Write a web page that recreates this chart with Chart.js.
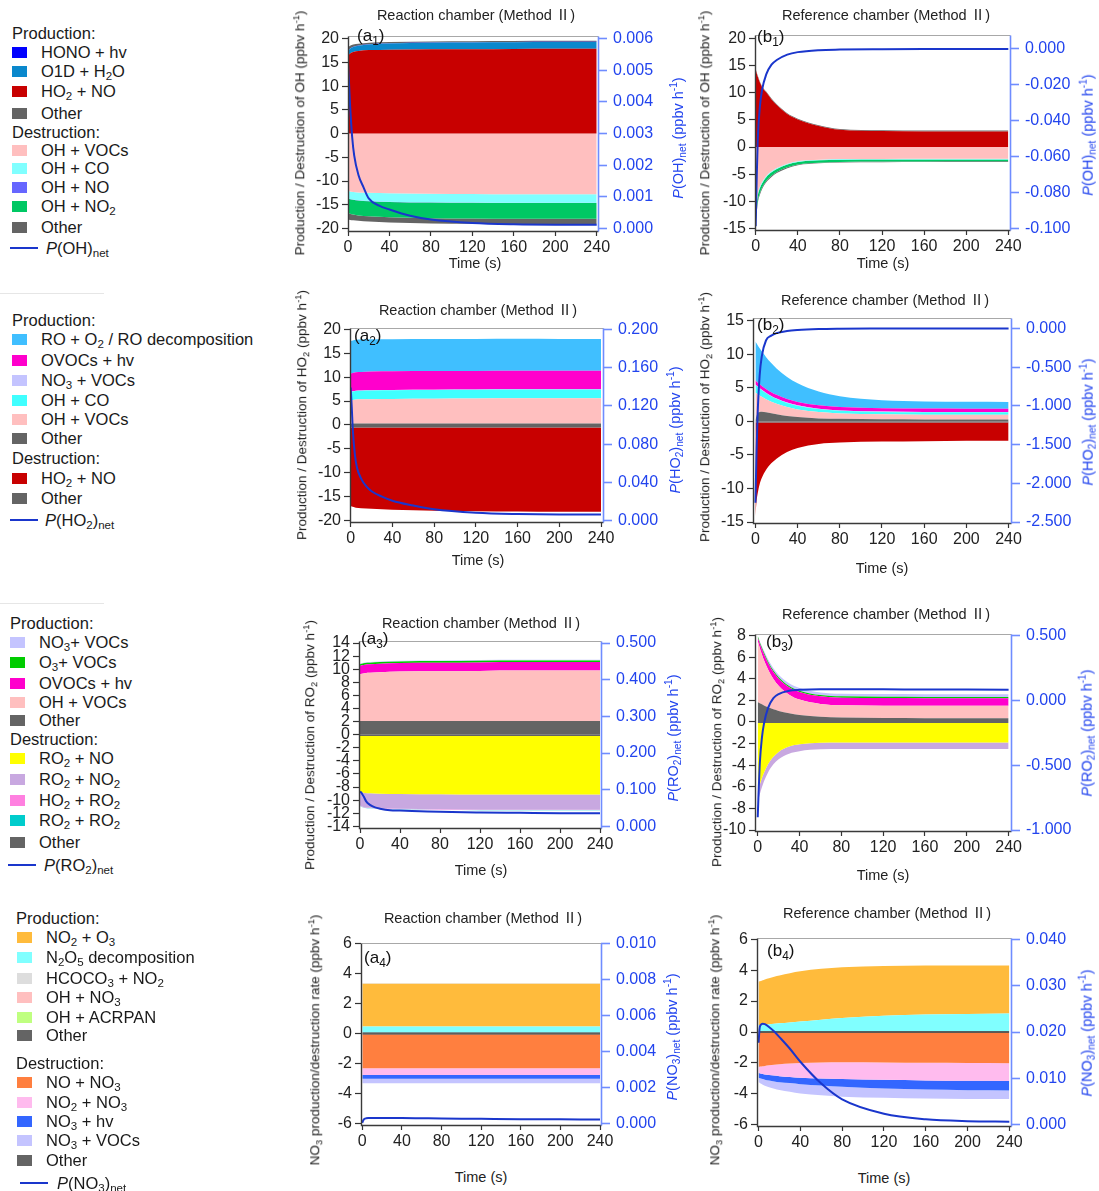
<!DOCTYPE html>
<html>
<head>
<meta charset="utf-8">
<title>OH, HO2, RO2 and NO3 budgets (Method II)</title>
<script src="https://cdn.jsdelivr.net/npm/chart.js@4.4.1/dist/chart.umd.min.js"></script>
<style>
  body { margin: 0; background: #fff; font-family: "Liberation Sans", Arial, sans-serif; color: #222; }
  #page { position: relative; width: 1099px; height: 1191px; overflow: hidden; }
  #page canvas { position: absolute; }
  .abs { position: absolute; white-space: nowrap; line-height: 1.15; }
  sub { font-size: 0.7em; vertical-align: -0.3em; line-height: 0; }
  sup { font-size: 0.7em; vertical-align: 0.55em; line-height: 0; }
  .lg { font-size: 16.5px; color: #1a1a1a; }
  .sw { position: absolute; width: 15px; height: 11px; margin-top: -5px; }
  .ln { position: absolute; width: 28px; height: 2px; margin-top: -1px; background: #1a36cc; }
  .ttl { font-size: 14.5px; color: #222; font-family: "Liberation Sans", "Noto Sans CJK SC", Arial, sans-serif; }
  .axl { font-size: 13.5px; color: #222; }
  .axr { font-size: 14.5px; color: #2244ee; }
  .tm { font-size: 14.5px; color: #222; }
  .pl { font-size: 17px; color: #111; }
  .sep { position: absolute; height: 1px; background: #e6e6e6; }
</style>
</head>
<body>
<div id="page"></div>
<script>
// time grids (s): slow panels and fast-changing panels / net rate curves
var tFlat = [0, 2, 5, 10, 20, 40, 80, 120, 160, 200, 240];
var tFast = [0, 1, 2, 4, 6, 10, 15, 20, 30, 40, 60, 80, 120, 160, 200, 240];
var timeTicks = [0, 40, 80, 120, 160, 200, 240];

// (a1) OH, reaction chamber -- tFlat
var a1_HO2_NO    = [16.5, 16.9, 17.2, 17.4, 17.6, 17.7, 17.8, 17.8, 17.85, 17.9, 17.9];
var a1_O1D_H2O   = [1.0, 1.0, 1.05, 1.1, 1.2, 1.3, 1.35, 1.4, 1.4, 1.4, 1.4];
var a1_HONO_hv   = [0.05, 0.05, 0.05, 0.05, 0.05, 0.05, 0.05, 0.05, 0.05, 0.05, 0.05];
var a1_ProdOther = [0.6, 0.55, 0.5, 0.4, 0.3, 0.25, 0.2, 0.2, 0.2, 0.2, 0.2];
var a1_OH_VOCs   = [-12.0, -12.2, -12.3, -12.4, -12.5, -12.6, -12.7, -12.75, -12.8, -12.8, -12.8];
var a1_OH_CO     = [-1.6, -1.6, -1.6, -1.65, -1.7, -1.75, -1.8, -1.8, -1.8, -1.8, -1.8];
var a1_OH_NO     = [-0.05, -0.05, -0.05, -0.05, -0.05, -0.05, -0.05, -0.05, -0.05, -0.05, -0.05];
var a1_OH_NO2    = [-3.0, -3.05, -3.1, -3.15, -3.2, -3.25, -3.3, -3.3, -3.3, -3.3, -3.3];
var a1_DestOther = [-1.4, -1.3, -1.2, -1.15, -1.1, -1.1, -1.1, -1.1, -1.1, -1.1, -1.1];
var a1_Net       = [0.0052, 0.0046, 0.0039, 0.0029, 0.0023, 0.0017, 0.0013, 0.00095, 0.00072, 0.0006, 0.0004, 0.00028, 0.00017, 0.00013, 0.00012, 0.00012];

// (b1) OH, reference chamber -- tFast
var b1_HO2_NO    = [14.3, 13.6, 13.0, 11.9, 11.1, 10.1, 8.8, 7.75, 6.1, 5.1, 3.9, 3.2, 2.95, 2.9, 2.9, 2.9];
var b1_ProdOther = [0.15, 0.15, 0.15, 0.15, 0.15, 0.15, 0.15, 0.15, 0.15, 0.15, 0.15, 0.15, 0.15, 0.15, 0.15, 0.15];
var b1_OH_VOCs   = [-11.8, -10.1, -8.6, -7.27, -6.45, -5.33, -4.46, -3.86, -3.07, -2.61, -2.33, -2.22, -2.18, -2.17, -2.17, -2.17];
var b1_OH_CO     = [-0.4, -0.35, -0.3, -0.28, -0.25, -0.22, -0.2, -0.18, -0.15, -0.14, -0.12, -0.11, -0.1, -0.1, -0.1, -0.1];
var b1_OH_NO2    = [-1.3, -1.1, -1.0, -0.9, -0.8, -0.7, -0.62, -0.56, -0.5, -0.45, -0.42, -0.4, -0.38, -0.37, -0.36, -0.36];
var b1_DestOther = [-0.5, -0.45, -0.4, -0.35, -0.3, -0.25, -0.22, -0.2, -0.18, -0.15, -0.13, -0.12, -0.12, -0.12, -0.12, -0.12];
var b1_Net       = [-0.0988, -0.071, -0.050, -0.032, -0.023, -0.0142, -0.0088, -0.0062, -0.0032, -0.0018, -0.0007, -0.0004, -0.0002, -0.0001, -0.0001, -0.0001];

// (a2) HO2, reaction chamber -- tFlat
var a2_ProdOther = [0.3, 0.3, 0.3, 0.3, 0.3, 0.3, 0.3, 0.3, 0.3, 0.3, 0.3];
var a2_OH_VOCs   = [4.8, 4.9, 5.0, 5.05, 5.1, 5.15, 5.2, 5.25, 5.3, 5.3, 5.3];
var a2_OH_CO     = [1.8, 1.8, 1.8, 1.8, 1.8, 1.8, 1.8, 1.8, 1.8, 1.8, 1.8];
var a2_NO3_VOCs  = [0.05, 0.05, 0.05, 0.05, 0.05, 0.05, 0.05, 0.05, 0.05, 0.05, 0.05];
var a2_OVOCs_hv  = [3.8, 3.8, 3.85, 3.85, 3.9, 3.9, 3.9, 3.9, 3.9, 3.9, 3.9];
var a2_RO_O2     = [6.8, 6.8, 6.8, 6.8, 6.75, 6.7, 6.7, 6.65, 6.65, 6.6, 6.6];
var a2_DestOther = [-0.5, -0.5, -0.5, -0.5, -0.5, -0.5, -0.5, -0.5, -0.5, -0.5, -0.5];
var a2_HO2_NO    = [-16.4, -16.6, -16.8, -16.9, -17.0, -17.2, -17.4, -17.5, -17.55, -17.6, -17.6];
var a2_Net       = [0.139, 0.119, 0.0955, 0.069, 0.0557, 0.044, 0.0358, 0.0308, 0.0252, 0.0209, 0.0159, 0.0119, 0.0083, 0.007, 0.0066, 0.0066];

// (b2) HO2, reference chamber -- tFast
var b2_ProdOther = [0.2, 0.8, 1.2, 1.4, 1.45, 1.35, 1.2, 1.05, 0.8, 0.65, 0.45, 0.38, 0.32, 0.3, 0.3, 0.3];
var b2_OH_VOCs   = [4.1, 3.38, 2.87, 2.46, 2.21, 1.96, 1.73, 1.57, 1.33, 1.14, 0.94, 0.81, 0.73, 0.71, 0.7, 0.7];
var b2_OH_CO     = [1.15, 1.12, 1.09, 1.03, 1.0, 0.91, 0.82, 0.74, 0.63, 0.55, 0.45, 0.4, 0.36, 0.35, 0.35, 0.35];
var b2_NO3_VOCs  = [0.05, 0.05, 0.05, 0.05, 0.05, 0.05, 0.05, 0.05, 0.05, 0.05, 0.05, 0.05, 0.05, 0.05, 0.05, 0.05];
var b2_OVOCs_hv  = [0.6, 0.6, 0.6, 0.6, 0.58, 0.57, 0.56, 0.55, 0.53, 0.52, 0.5, 0.5, 0.5, 0.5, 0.5, 0.5];
var b2_RO_O2     = [5.8, 5.69, 5.58, 5.36, 5.15, 4.77, 4.33, 3.94, 3.29, 2.76, 2.05, 1.62, 1.2, 1.07, 1.03, 1.01];
var b2_DestOther = [-0.15, -0.15, -0.15, -0.15, -0.15, -0.15, -0.15, -0.15, -0.15, -0.15, -0.15, -0.15, -0.15, -0.15, -0.15, -0.15];
var b2_HO2_NO    = [-14.0, -11.8, -10.7, -9.2, -8.3, -7.1, -6.1, -5.4, -4.4, -3.8, -3.2, -3.0, -2.85, -2.8, -2.75, -2.75];
var b2_Net       = [-2.25, -1.63, -1.14, -0.61, -0.36, -0.156, -0.094, -0.061, -0.033, -0.02, -0.008, -0.004, -0.002, -0.001, -0.001, -0.001];

// (a3) RO2, reaction chamber -- tFlat
var a3_ProdOther = [2.1, 2.1, 2.1, 2.1, 2.1, 2.1, 2.1, 2.1, 2.1, 2.1, 2.1];
var a3_OH_VOCs   = [7.1, 7.2, 7.3, 7.35, 7.45, 7.55, 7.6, 7.65, 7.7, 7.7, 7.7];
var a3_OVOCs_hv  = [1.3, 1.3, 1.3, 1.3, 1.3, 1.3, 1.3, 1.3, 1.3, 1.3, 1.3];
var a3_O3_VOCs   = [0.25, 0.25, 0.25, 0.25, 0.25, 0.25, 0.25, 0.25, 0.25, 0.25, 0.25];
var a3_NO3_VOCs  = [0.1, 0.1, 0.1, 0.1, 0.1, 0.1, 0.1, 0.1, 0.1, 0.1, 0.1];
var a3_DestOther = [-0.2, -0.2, -0.2, -0.2, -0.2, -0.2, -0.2, -0.2, -0.2, -0.2, -0.2];
var a3_RO2_NO    = [-8.5, -8.6, -8.7, -8.75, -8.8, -8.85, -8.9, -8.95, -8.95, -8.95, -8.95];
var a3_RO2_NO2   = [-2.1, -2.15, -2.2, -2.2, -2.25, -2.25, -2.3, -2.3, -2.3, -2.3, -2.3];
var a3_HO2_RO2   = [-0.05, -0.05, -0.05, -0.05, -0.05, -0.05, -0.05, -0.05, -0.05, -0.05, -0.05];
var a3_RO2_RO2   = [-0.03, -0.03, -0.03, -0.03, -0.03, -0.03, -0.03, -0.03, -0.03, -0.03, -0.03];
var a3_Net       = [0.0948, 0.093, 0.089, 0.080, 0.069, 0.0586, 0.0517, 0.0483, 0.044, 0.043, 0.0414, 0.0397, 0.038, 0.037, 0.036, 0.036];

// (b3) RO2, reference chamber -- tFast
var b3_ProdOther = [1.85, 1.79, 1.73, 1.63, 1.53, 1.36, 1.17, 1.02, 0.8, 0.65, 0.49, 0.41, 0.36, 0.35, 0.35, 0.35];
var b3_OH_VOCs   = [5.65, 5.37, 5.1, 4.61, 4.19, 3.47, 2.81, 2.33, 1.73, 1.42, 1.18, 1.14, 1.15, 1.15, 1.15, 1.15];
var b3_OVOCs_hv  = [0.3, 0.35, 0.4, 0.5, 0.55, 0.6, 0.64, 0.66, 0.68, 0.7, 0.7, 0.7, 0.7, 0.7, 0.7, 0.7];
var b3_O3_VOCs   = [0.15, 0.15, 0.15, 0.15, 0.15, 0.15, 0.14, 0.14, 0.13, 0.13, 0.12, 0.12, 0.12, 0.12, 0.12, 0.12];
var b3_NO3_VOCs  = [0.05, 0.08, 0.1, 0.15, 0.18, 0.2, 0.22, 0.23, 0.24, 0.25, 0.25, 0.25, 0.25, 0.25, 0.25, 0.25];
var b3_DestOther = [-0.1, -0.1, -0.1, -0.1, -0.1, -0.1, -0.1, -0.1, -0.1, -0.1, -0.1, -0.1, -0.1, -0.1, -0.1, -0.1];
var b3_RO2_NO    = [-6.4, -6.03, -5.69, -5.1, -4.59, -3.8, -3.12, -2.67, -2.18, -1.97, -1.83, -1.8, -1.8, -1.8, -1.8, -1.8];
var b3_RO2_NO2   = [-1.0, -0.95, -0.9, -0.85, -0.8, -0.75, -0.7, -0.68, -0.65, -0.63, -0.6, -0.6, -0.6, -0.6, -0.6, -0.6];
var b3_Net       = [-0.902, -0.68, -0.485, -0.289, -0.179, -0.056, 0.017, 0.049, 0.0735, 0.081, 0.086, 0.086, 0.085, 0.084, 0.083, 0.082];

// (a4) NO3, reaction chamber -- tFlat
var a4_ProdOther = [0.06, 0.06, 0.06, 0.06, 0.06, 0.06, 0.06, 0.06, 0.06, 0.06, 0.06];
var a4_N2O5      = [0.4, 0.4, 0.4, 0.4, 0.4, 0.4, 0.4, 0.4, 0.4, 0.4, 0.4];
var a4_NO2_O3    = [2.85, 2.85, 2.85, 2.85, 2.85, 2.85, 2.85, 2.85, 2.85, 2.85, 2.85];
var a4_HCOCO3    = [0.04, 0.04, 0.04, 0.04, 0.04, 0.04, 0.04, 0.04, 0.04, 0.04, 0.04];
var a4_DestOther = [-0.06, -0.06, -0.06, -0.06, -0.06, -0.06, -0.06, -0.06, -0.06, -0.06, -0.06];
var a4_NO_NO3    = [-2.25, -2.25, -2.25, -2.25, -2.25, -2.25, -2.25, -2.25, -2.25, -2.25, -2.25];
var a4_NO2_NO3   = [-0.45, -0.45, -0.45, -0.45, -0.45, -0.45, -0.45, -0.45, -0.45, -0.45, -0.45];
var a4_NO3_hv    = [-0.25, -0.25, -0.25, -0.25, -0.25, -0.25, -0.25, -0.25, -0.25, -0.25, -0.25];
var a4_NO3_VOCs  = [-0.3, -0.3, -0.3, -0.3, -0.3, -0.3, -0.3, -0.3, -0.3, -0.3, -0.3];
var a4_Net       = [0.00004, 0.00018, 0.00025, 0.00029, 0.0003, 0.0003, 0.0003, 0.0003, 0.0003, 0.0003, 0.00029, 0.00028, 0.00026, 0.00024, 0.00023, 0.00022];

// (b4) NO3, reference chamber -- tFast
var b4_ProdOther = [0.05, 0.05, 0.05, 0.05, 0.05, 0.05, 0.05, 0.05, 0.05, 0.05, 0.05, 0.05, 0.05, 0.05, 0.05, 0.05];
var b4_N2O5      = [0.4, 0.4, 0.41, 0.42, 0.43, 0.45, 0.48, 0.51, 0.57, 0.63, 0.75, 0.85, 1.0, 1.08, 1.12, 1.14];
var b4_NO2_O3    = [2.8, 2.83, 2.84, 2.88, 2.92, 2.98, 3.04, 3.09, 3.18, 3.24, 3.28, 3.28, 3.21, 3.16, 3.13, 3.11];
var b4_DestOther = [-0.05, -0.05, -0.05, -0.05, -0.05, -0.05, -0.05, -0.05, -0.05, -0.05, -0.05, -0.05, -0.05, -0.05, -0.05, -0.05];
var b4_NO_NO3    = [-2.2, -2.19, -2.18, -2.16, -2.14, -2.1, -2.06, -2.03, -1.98, -1.95, -1.92, -1.91, -1.92, -1.94, -1.95, -1.96];
var b4_NO2_NO3   = [-0.4, -0.42, -0.45, -0.5, -0.55, -0.62, -0.7, -0.77, -0.87, -0.95, -1.03, -1.08, -1.12, -1.14, -1.15, -1.15];
var b4_NO3_hv    = [-0.3, -0.31, -0.32, -0.33, -0.34, -0.36, -0.38, -0.39, -0.4, -0.42, -0.46, -0.5, -0.56, -0.59, -0.61, -0.61];
var b4_NO3_VOCs  = [-0.3, -0.31, -0.33, -0.36, -0.39, -0.43, -0.47, -0.5, -0.55, -0.6, -0.63, -0.64, -0.6, -0.58, -0.56, -0.55];
var b4_Net       = [0.0177, 0.0208, 0.0215, 0.0218, 0.0217, 0.0211, 0.0201, 0.0189, 0.0164, 0.0136, 0.0089, 0.0055, 0.0024, 0.0012, 0.0008, 0.0007];

// axis tick lists
var ticksOHa  = [-20, -15, -10, -5, 0, 5, 10, 15, 20];
var ticksOHb  = [-15, -10, -5, 0, 5, 10, 15, 20];
var ticksHO2a = [-20, -15, -10, -5, 0, 5, 10, 15, 20];
var ticksHO2b = [-15, -10, -5, 0, 5, 10, 15];
var ticksRO2a = [-14, -12, -10, -8, -6, -4, -2, 0, 2, 4, 6, 8, 10, 12, 14];
var ticksRO2b = [-10, -8, -6, -4, -2, 0, 2, 4, 6, 8];
var ticksNO3  = [-6, -4, -2, 0, 2, 4, 6];
var netTicksA1 = [0, 0.001, 0.002, 0.003, 0.004, 0.005, 0.006];
var netTicksB1 = [-0.1, -0.08, -0.06, -0.04, -0.02, 0];
var netTicksA2 = [0, 0.04, 0.08, 0.12, 0.16, 0.2];
var netTicksB2 = [-2.5, -2, -1.5, -1, -0.5, 0];
var netTicksA3 = [0, 0.1, 0.2, 0.3, 0.4, 0.5];
var netTicksB3 = [-1, -0.5, 0, 0.5];
var netTicksA4 = [0, 0.002, 0.004, 0.006, 0.008, 0.01];
var netTicksB4 = [0, 0.01, 0.02, 0.03, 0.04];

var C = {
  hono: '#0000ff', o1d: '#0a88cc', red: '#c80000', other: '#646464', pink: '#ffbfbf',
  cyanLt: '#80ffff', ohno: '#6666ff', green: '#00c864', roBlue: '#40bfff', magenta: '#ff00cc',
  lav: '#c4c4ff', cyan: '#40ffff', o3voc: '#00cc00', yellow: '#ffff00', purple: '#c8a8e0',
  hoRo: '#ff80e0', teal: '#00cccc', orange: '#ffbb3c', hcoco3: '#dddddd', acrpan: '#bfff80',
  noNo3: '#ff7f3f', no2No3: '#ffbbee', no3hv: '#3366ff', zero: '#2a2a2a', net: '#1a36cc'
};

var METHOD = ' (Method \u2161)';
var UNIT = ' (ppbv h<sup>-1</sup>)';

var panels = [
  { area: [348, 26, 598, 231], x: [0, 241.25], y: [-20.54, 20.66], align: [20, 0.006, -20, 0],
    t: tFlat, yTicks: ticksOHa, y2Ticks: netTicksA1, net: a1_Net,
    prod: [[a1_HO2_NO, C.red], [a1_O1D_H2O, C.o1d], [a1_HONO_hv, C.hono], [a1_ProdOther, C.other]],
    dest: [[a1_OH_VOCs, C.pink], [a1_OH_CO, C.cyanLt], [a1_OH_NO, C.ohno], [a1_OH_NO2, C.green], [a1_DestOther, C.other]],
    title: ['Reaction chamber' + METHOD, 476, 15], tag: ['(a<sub>1</sub>)', 357, 36], time: [475, 263],
    left: ['Production / Destruction of OH' + UNIT, 300, 133], right: ['<i>P</i>(OH)<sub>net</sub>' + UNIT, 678, 138] },
  { area: [755, 25, 1010, 230], x: [-0.66, 241.6], y: [-15.3, 20.76], align: [18.12, 0, -15, -0.1],
    t: tFast, yTicks: ticksOHb, y2Ticks: netTicksB1, net: b1_Net,
    prod: [[b1_HO2_NO, C.red], [b1_ProdOther, C.other]],
    dest: [[b1_OH_VOCs, C.pink], [b1_OH_CO, C.cyanLt], [b1_OH_NO2, C.green], [b1_DestOther, C.other]],
    title: ['Reference chamber' + METHOD, 886, 15], tag: ['(b<sub>1</sub>)', 757, 37], time: [883, 263],
    left: ['Production / Destruction of OH' + UNIT, 705, 133], right: ['<i>P</i>(OH)<sub>net</sub>' + UNIT, 1088, 135] },
  { area: [350, 318, 603, 522], x: [-0.67, 241.9], y: [-20.26, 20.34], align: [20, 0.2, -20, 0],
    t: tFlat, yTicks: ticksHO2a, y2Ticks: netTicksA2, net: a2_Net,
    prod: [[a2_ProdOther, C.other], [a2_OH_VOCs, C.pink], [a2_OH_CO, C.cyan], [a2_NO3_VOCs, C.lav], [a2_OVOCs_hv, C.magenta], [a2_RO_O2, C.roBlue]],
    dest: [[a2_DestOther, C.other], [a2_HO2_NO, C.red]],
    title: ['Reaction chamber' + METHOD, 478, 310], tag: ['(a<sub>2</sub>)', 354, 336], time: [478, 560],
    left: ['Production / Destruction of HO<sub>2</sub>' + UNIT, 302, 415], right: ['<i>P</i>(HO<sub>2</sub>)<sub>net</sub>' + UNIT, 675, 430] },
  { area: [753, 308, 1011, 523], x: [-2.3, 242.3], y: [-15.14, 15.47], align: [13.86, 0, -15, -2.5],
    t: tFast, yTicks: ticksHO2b, y2Ticks: netTicksB2, net: b2_Net,
    prod: [[b2_ProdOther, C.other], [b2_OH_VOCs, C.pink], [b2_OH_CO, C.cyan], [b2_NO3_VOCs, C.lav], [b2_OVOCs_hv, C.magenta], [b2_RO_O2, C.roBlue]],
    dest: [[b2_DestOther, C.other], [b2_HO2_NO, C.red]],
    title: ['Reference chamber' + METHOD, 885, 300], tag: ['(b<sub>2</sub>)', 757, 325], time: [882, 568],
    left: ['Production / Destruction of HO<sub>2</sub>' + UNIT, 705, 417], right: ['<i>P</i>(HO<sub>2</sub>)<sub>net</sub>' + UNIT, 1088, 422] },
  { area: [359, 631, 601, 828], x: [-1, 241], y: [-14.25, 14.38], align: [14, 0.5, -14, 0],
    t: tFlat, yTicks: ticksRO2a, y2Ticks: netTicksA3, net: a3_Net,
    prod: [[a3_ProdOther, C.other], [a3_OH_VOCs, C.pink], [a3_OVOCs_hv, C.magenta], [a3_O3_VOCs, C.o3voc], [a3_NO3_VOCs, C.lav]],
    dest: [[a3_DestOther, C.other], [a3_RO2_NO, C.yellow], [a3_RO2_NO2, C.purple], [a3_HO2_RO2, C.hoRo], [a3_RO2_RO2, C.teal]],
    title: ['Reaction chamber' + METHOD, 481, 623], tag: ['(a<sub>3</sub>)', 361, 639], time: [481, 870],
    left: ['Production / Destruction of RO<sub>2</sub>' + UNIT, 310, 745], right: ['<i>P</i>(RO<sub>2</sub>)<sub>net</sub>' + UNIT, 673, 738] },
  { area: [755, 624, 1011, 831], x: [-2.6, 242.3], y: [-10.09, 8.18], align: [8, 0.5, -10, -1],
    t: tFast, yTicks: ticksRO2b, y2Ticks: netTicksB3, net: b3_Net,
    prod: [[b3_ProdOther, C.other], [b3_OH_VOCs, C.pink], [b3_OVOCs_hv, C.magenta], [b3_O3_VOCs, C.o3voc], [b3_NO3_VOCs, C.lav]],
    dest: [[b3_DestOther, C.other], [b3_RO2_NO, C.yellow], [b3_RO2_NO2, C.purple]],
    title: ['Reference chamber' + METHOD, 886, 614], tag: ['(b<sub>3</sub>)', 766, 642], time: [883, 875],
    left: ['Production / Destruction of RO<sub>2</sub>' + UNIT, 717, 742], right: ['<i>P</i>(RO<sub>2</sub>)<sub>net</sub>' + UNIT, 1087, 733] },
  { area: [361, 933, 601, 1125], x: [-1.3, 241], y: [-6.1, 6.06], align: [6, 0.01, -6, 0],
    t: tFlat, yTicks: ticksNO3, y2Ticks: netTicksA4, net: a4_Net,
    prod: [[a4_ProdOther, C.zero], [a4_N2O5, C.cyanLt], [a4_NO2_O3, C.orange], [a4_HCOCO3, C.hcoco3]],
    dest: [[a4_DestOther, C.zero], [a4_NO_NO3, C.noNo3], [a4_NO2_NO3, C.no2No3], [a4_NO3_hv, C.no3hv], [a4_NO3_VOCs, C.lav]],
    title: ['Reaction chamber' + METHOD, 483, 918], tag: ['(a<sub>4</sub>)', 364, 958], time: [481, 1177],
    left: ['NO<sub>3</sub> production/destruction rate' + UNIT, 315, 1040], right: ['<i>P</i>(NO<sub>3</sub>)<sub>net</sub>' + UNIT, 672, 1037] },
  { area: [757, 928, 1011, 1126], x: [-1.5, 241.6], y: [-6.07, 6.1], align: [6, 0.04, -6, 0],
    t: tFast, yTicks: ticksNO3, y2Ticks: netTicksB4, net: b4_Net,
    prod: [[b4_ProdOther, C.zero], [b4_N2O5, C.cyanLt], [b4_NO2_O3, C.orange]],
    dest: [[b4_DestOther, C.zero], [b4_NO_NO3, C.noNo3], [b4_NO2_NO3, C.no2No3], [b4_NO3_hv, C.no3hv], [b4_NO3_VOCs, C.lav]],
    title: ['Reference chamber' + METHOD, 887, 913], tag: ['(b<sub>4</sub>)', 767, 951], time: [884, 1178],
    left: ['NO<sub>3</sub> production/destruction rate' + UNIT, 715, 1040], right: ['<i>P</i>(NO<sub>3</sub>)<sub>net</sub>' + UNIT, 1087, 1033] }
];

// legends: [text, swatch colour | null (heading) | 'line', y]
var legendOH = [
  ['Production:', null, 33], ['HONO + hv', C.hono, 52], ['O1D + H<sub>2</sub>O', C.o1d, 71],
  ['HO<sub>2</sub> + NO', C.red, 91], ['Other', C.other, 113], ['Destruction:', null, 132],
  ['OH + VOCs', C.pink, 150], ['OH + CO', C.cyanLt, 168], ['OH + NO', C.ohno, 187],
  ['OH + NO<sub>2</sub>', C.green, 206], ['Other', C.other, 227], ['<i>P</i>(OH)<sub>net</sub>', 'line', 248]
];
var legendHO2 = [
  ['Production:', null, 320], ['RO + O<sub>2</sub> / RO decomposition', C.roBlue, 339], ['OVOCs + hv', C.magenta, 360],
  ['NO<sub>3</sub> + VOCs', C.lav, 380], ['OH + CO', C.cyan, 400], ['OH + VOCs', C.pink, 419],
  ['Other', C.other, 438], ['Destruction:', null, 458], ['HO<sub>2</sub> + NO', C.red, 478],
  ['Other', C.other, 498], ['<i>P</i>(HO<sub>2</sub>)<sub>net</sub>', 'line', 520]
];
var legendRO2 = [
  ['Production:', null, 623], ['NO<sub>3</sub>+ VOCs', C.lav, 642], ['O<sub>3</sub>+ VOCs', C.o3voc, 662],
  ['OVOCs + hv', C.magenta, 683], ['OH + VOCs', C.pink, 702], ['Other', C.other, 720],
  ['Destruction:', null, 739], ['RO<sub>2</sub> + NO', C.yellow, 758], ['RO<sub>2</sub> + NO<sub>2</sub>', C.purple, 779],
  ['HO<sub>2</sub> + RO<sub>2</sub>', C.hoRo, 800], ['RO<sub>2</sub> + RO<sub>2</sub>', C.teal, 820], ['Other', C.other, 842],
  ['<i>P</i>(RO<sub>2</sub>)<sub>net</sub>', 'line', 865]
];
var legendNO3 = [
  ['Production:', null, 918], ['NO<sub>2</sub> + O<sub>3</sub>', C.orange, 937], ['N<sub>2</sub>O<sub>5</sub> decomposition', C.cyanLt, 957],
  ['HCOCO<sub>3</sub> + NO<sub>2</sub>', C.hcoco3, 978], ['OH + NO<sub>3</sub>', C.pink, 997], ['OH + ACRPAN', C.acrpan, 1017],
  ['Other', C.other, 1035], ['Destruction:', null, 1063], ['NO + NO<sub>3</sub>', C.noNo3, 1082],
  ['NO<sub>2</sub> + NO<sub>3</sub>', C.no2No3, 1102], ['NO<sub>3</sub> + hv', C.no3hv, 1121], ['NO<sub>3</sub> + VOCs', C.lav, 1140],
  ['Other', C.other, 1160], ['<i>P</i>(NO<sub>3</sub>)<sub>net</sub>', 'line', 1183]
];

(function() {
  var page = document.getElementById('page');
  var PAD_L = 60, PAD_R = 90, PAD_T = 6, PAD_B = 34;

  Chart.defaults.font.family = '"Liberation Sans", Arial, sans-serif';

  function put(html, x, y, cls, mode) {
    var d = document.createElement('div');
    d.className = 'abs ' + cls;
    d.innerHTML = html;
    d.style.left = x + 'px';
    d.style.top = y + 'px';
    if (mode === 'rot') d.style.transform = 'translate(-50%,-50%) rotate(-90deg)';
    else if (mode === 'mid') d.style.transform = 'translate(-50%,-50%)';
    else d.style.transform = 'translate(0,-50%)';
    page.appendChild(d);
    return d;
  }

  function legend(items, x) {
    items.forEach(function(it) {
      if (it[1] === null) {
        put(it[0], x.head, it[2], 'lg');
      } else if (it[1] === 'line') {
        var l = document.createElement('div');
        l.className = 'ln';
        l.style.left = x.line + 'px';
        l.style.top = it[2] + 'px';
        page.appendChild(l);
        put(it[0], x.lineText, it[2], 'lg');
      } else {
        var s = document.createElement('div');
        s.className = 'sw';
        s.style.left = x.sw + 'px';
        s.style.top = it[2] + 'px';
        s.style.background = it[1];
        page.appendChild(s);
        put(it[0], x.text, it[2], 'lg');
      }
    });
  }

  // right axis range that lines up value pairs (l1 <-> r1, l2 <-> r2) with the left axis
  function alignRange(y, m) {
    var k = (m[1] - m[3]) / (m[0] - m[2]);
    return [m[3] + (y[0] - m[2]) * k, m[3] + (y[1] - m[2]) * k];
  }

  function fixedTicks(list) {
    return function(axis) {
      axis.ticks = list.map(function(v) { return { value: v }; });
    };
  }

  // box round the plot area, drawn over the filled areas
  var frame = {
    id: 'frame',
    afterDatasetsDraw: function(chart) {
      var a = chart.chartArea, ctx = chart.ctx;
      var l = Math.round(a.left) + 0.5, r = Math.round(a.right) + 0.5;
      var t = Math.round(a.top) + 0.5, b = Math.round(a.bottom) + 0.5;
      ctx.save();
      ctx.lineWidth = 1;
      ctx.strokeStyle = '#a8a8a8';
      ctx.beginPath(); ctx.moveTo(l, t); ctx.lineTo(r, t); ctx.stroke();
      ctx.lineWidth = 1.4;
      ctx.strokeStyle = '#3a3a3a';
      ctx.beginPath(); ctx.moveTo(l, t); ctx.lineTo(l, b); ctx.lineTo(r, b); ctx.stroke();
      ctx.lineWidth = 1.6;
      ctx.strokeStyle = '#6f8cff';
      ctx.beginPath(); ctx.moveTo(r, t); ctx.lineTo(r, b); ctx.stroke();
      ctx.restore();
    }
  };

  function series(times, values) {
    return times.map(function(t, i) { return { x: t, y: values[i] }; });
  }

  function makePanel(p) {
    var L = p.area[0], T = p.area[1], R = p.area[2], B = p.area[3];
    var cv = document.createElement('canvas');
    cv.width = R - L + PAD_L + PAD_R;
    cv.height = B - T + PAD_T + PAD_B;
    cv.style.left = (L - PAD_L) + 'px';
    cv.style.top = (T - PAD_T) + 'px';
    page.appendChild(cv);

    var datasets = [];
    function addStack(list, stack) {
      list.forEach(function(s, i) {
        datasets.push({
          data: series(p.t, s[0]), backgroundColor: s[1], borderColor: s[1], borderWidth: 0,
          pointRadius: 0, fill: i === 0 ? 'origin' : '-1', stack: stack, yAxisID: 'y', order: 1,
          cubicInterpolationMode: 'monotone'
        });
      });
    }
    addStack(p.prod, 'prod');
    addStack(p.dest, 'dest');
    datasets.push({
      data: series(tFast, p.net), borderColor: C.net, borderWidth: 2, pointRadius: 0, fill: false,
      yAxisID: 'y2', order: 0, cubicInterpolationMode: 'monotone'
    });

    var r2 = alignRange(p.y, p.align);
    new Chart(cv, {
      type: 'line',
      data: { datasets: datasets },
      plugins: [frame],
      options: {
        responsive: false,
        animation: false,
        events: [],
        layout: { padding: { top: PAD_T, left: 0, right: 0, bottom: 0 }, autoPadding: false },
        plugins: { legend: { display: false }, tooltip: { enabled: false } },
        scales: {
          x: {
            type: 'linear', min: p.x[0], max: p.x[1],
            afterBuildTicks: fixedTicks(timeTicks),
            afterFit: function(s) { s.height = PAD_B; },
            ticks: { color: '#222', font: { size: 16 }, padding: 2, maxRotation: 0, autoSkip: false },
            grid: { drawOnChartArea: false, tickLength: 5, tickColor: '#333', tickWidth: 1.2 },
            border: { display: false }
          },
          y: {
            position: 'left', stacked: true, min: p.y[0], max: p.y[1],
            afterBuildTicks: fixedTicks(p.yTicks),
            afterFit: function(s) { s.width = PAD_L; },
            ticks: { color: '#222', font: { size: 16 }, padding: 3, autoSkip: false,
                     callback: function(v) { return String(v); } },
            grid: { drawOnChartArea: false, tickLength: 6, tickColor: '#333', tickWidth: 1.2 },
            border: { display: false }
          },
          y2: {
            position: 'right', min: r2[0], max: r2[1],
            afterBuildTicks: fixedTicks(p.y2Ticks),
            afterFit: function(s) { s.width = PAD_R; },
            ticks: { color: '#2244ee', font: { size: 16 }, padding: 6, autoSkip: false,
                     callback: function(v) { return v.toFixed(3); } },
            grid: { drawOnChartArea: false, tickLength: 9, tickColor: '#6f8cff', tickWidth: 1.6 },
            border: { display: false }
          }
        }
      }
    });

    put(p.title[0], p.title[1], p.title[2], 'ttl', 'mid');
    put(p.tag[0], p.tag[1], p.tag[2], 'pl');
    put('Time (s)', p.time[0], p.time[1], 'tm', 'mid');
    put(p.left[0], p.left[1], p.left[2], 'axl', 'rot');
    put(p.right[0], p.right[1], p.right[2], 'axr', 'rot');
  }

  panels.forEach(makePanel);

  legend(legendOH, { head: 12, sw: 12, text: 41, line: 10, lineText: 46 });
  legend(legendHO2, { head: 12, sw: 12, text: 41, line: 10, lineText: 45 });
  legend(legendRO2, { head: 10, sw: 10, text: 39, line: 8, lineText: 44 });
  legend(legendNO3, { head: 16, sw: 17, text: 46, line: 20, lineText: 57 });

  [[293, 104], [603, 104]].forEach(function(s) {
    var d = document.createElement('div');
    d.className = 'sep';
    d.style.left = '0px';
    d.style.top = s[0] + 'px';
    d.style.width = s[1] + 'px';
    page.appendChild(d);
  });
})();
</script>
</body>
</html>
